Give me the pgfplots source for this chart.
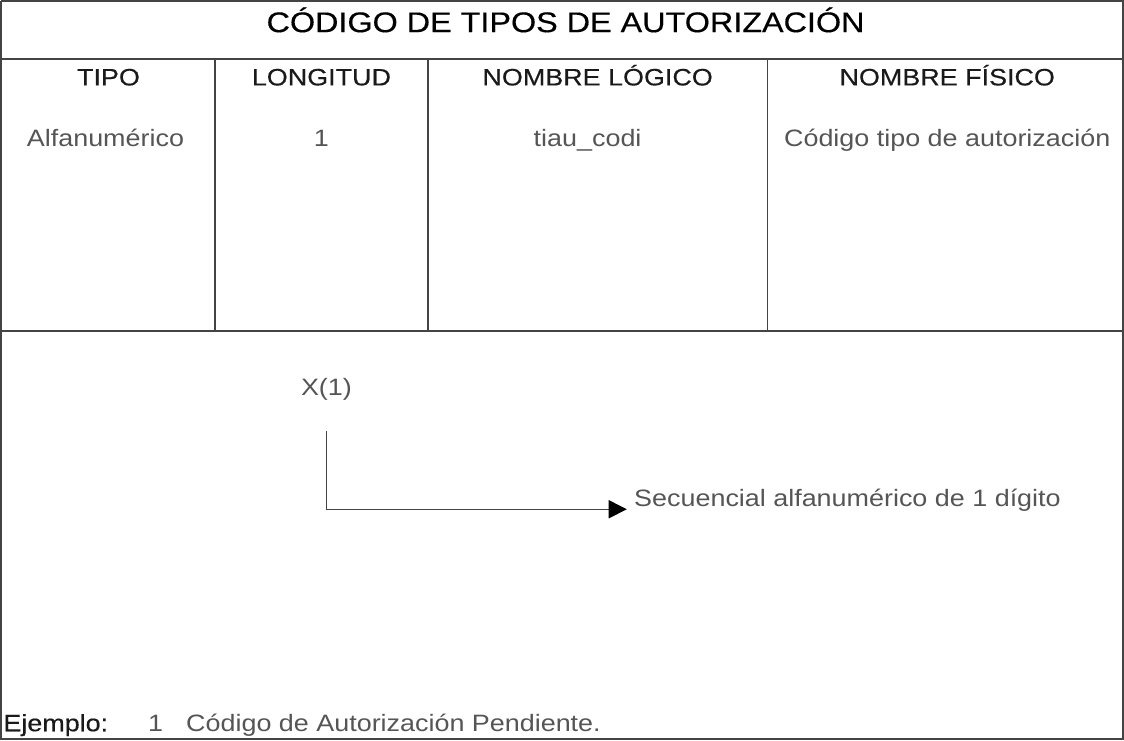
\documentclass[border=0pt]{standalone}
\usepackage{pgfplots}
\pgfplotsset{compat=1.18}
\usepackage{graphicx}
\usepackage{fontspec}
\setmainfont{Liberation Sans}
\newfontfamily\medfont{Liberation Sans}[FakeBold=0.35]
\usetikzlibrary{arrows.meta}
\definecolor{frame}{HTML}{444444}
\definecolor{hdr}{HTML}{1A1A1A}
\definecolor{body}{HTML}{555555}
\newcommand{\sq}[1]{\scalebox{1}[0.88]{#1}}
\begin{document}
\begin{tikzpicture}
\begin{axis}[
  width=562pt, height=370.5pt, scale only axis,
  xmin=0, xmax=1124, ymin=0, ymax=741, y dir=reverse,
  hide axis, clip=false]
% frame and grid lines
\addplot[frame, line width=1pt] coordinates {(4,4) (1121,4) (1121,739) (4,739) (4,4)};
\addplot[frame, line width=1pt] coordinates {(4,62) (1121,62)};
\addplot[frame, line width=1pt] coordinates {(4,333) (1121,333)};
\addplot[frame, line width=0.8pt] coordinates {(217,62) (217,333)};
\addplot[frame, line width=0.8pt] coordinates {(429,62) (429,333)};
\addplot[frame, line width=0.8pt] coordinates {(767,62) (767,333)};
% arrow
\addplot[frame, line width=0.7pt, -{Triangle[length=9pt,width=9pt,color=black]}] coordinates {(328,432) (328,510) (627,510)};
% title
\node[anchor=base, text=black, inner sep=0pt] at (axis cs:566,35) {\medfont\fontsize{16.1}{18}\selectfont\sq{CÓDIGO DE TIPOS DE AUTORIZACIÓN}};
% headers
\node[anchor=base, text=hdr, inner sep=0pt] at (axis cs:111,88) {\medfont\fontsize{13.4}{16}\selectfont\sq{TIPO}};
\node[anchor=base, text=hdr, inner sep=0pt] at (axis cs:323,88) {\medfont\fontsize{13.4}{16}\selectfont\sq{LONGITUD}};
\node[anchor=base, text=hdr, inner sep=0pt] at (axis cs:598,88) {\medfont\fontsize{13.4}{16}\selectfont\sq{NOMBRE LÓGICO}};
\node[anchor=base, text=hdr, inner sep=0pt] at (axis cs:946,88) {\medfont\fontsize{13.4}{16}\selectfont\sq{NOMBRE FÍSICO}};
% values
\node[anchor=base, text=body, inner sep=0pt] at (axis cs:108,149) {\fontsize{13.4}{16}\selectfont\sq{Alfanumérico}};
\node[anchor=base, text=body, inner sep=0pt] at (axis cs:323,149) {\fontsize{13.4}{16}\selectfont\sq{1}};
\node[anchor=base, text=body, inner sep=0pt] at (axis cs:588,149) {\fontsize{13.4}{16}\selectfont\sq{tiau\_codi}};
\node[anchor=base, text=body, inner sep=0pt] at (axis cs:946,149) {\fontsize{13.4}{16}\selectfont\sq{Código tipo de autorización}};
% lower section
\node[anchor=base, text=body, inner sep=0pt] at (axis cs:328,397) {\fontsize{13.4}{16}\selectfont\sq{X(1)}};
\node[anchor=base west, text=body, inner sep=0pt] at (axis cs:634,507) {\fontsize{13.4}{16}\selectfont\sq{Secuencial alfanumérico de 1 dígito}};
\node[anchor=base west, text=hdr, inner sep=0pt] at (axis cs:6,731) {\medfont\fontsize{13.4}{16}\selectfont\sq{Ejemplo:}};
\node[anchor=base west, text=body, inner sep=0pt] at (axis cs:150,731) {\fontsize{13.4}{16}\selectfont\sq{1}};
\node[anchor=base west, text=body, inner sep=0pt] at (axis cs:188,731) {\fontsize{13.4}{16}\selectfont\sq{Código de Autorización Pendiente.}};
\end{axis}
\end{tikzpicture}
\end{document}
